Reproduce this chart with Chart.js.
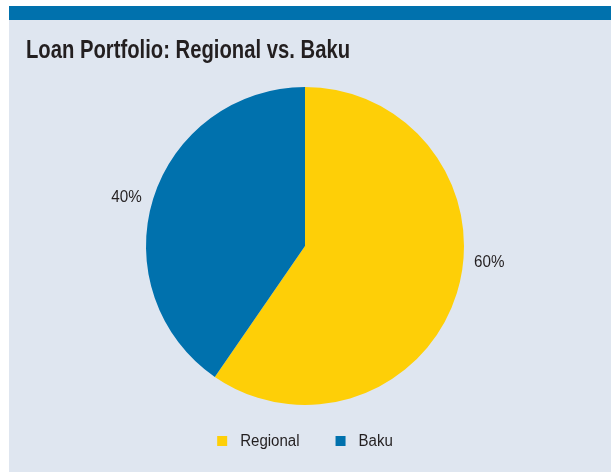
<!DOCTYPE html>
<html>
<head>
<meta charset="utf-8">
<script src="https://cdn.jsdelivr.net/npm/chart.js@4"></script>
<style>
  html, body { margin: 0; padding: 0; background: #ffffff; }
  body { width: 611px; height: 472px; position: relative; overflow: hidden; }
  #topbar { position: absolute; left: 9px; top: 6px; width: 602px; height: 14px; background: #0071ad; }
  #panel { position: absolute; left: 9px; top: 20px; width: 602px; height: 452px; background: #dfe6f0; }
  #panel canvas { display: block; }
</style>
</head>
<body>
<div id="topbar"></div>
<div id="panel"><canvas id="chart" width="602" height="452"></canvas></div>
<script>
// chart data
const categories = ["Regional", "Baku"];
const shares = [59.6, 40.4];
const sliceColors = ["#fecf07", "#0071ad"];
const chartTitle = "Loan Portfolio: Regional vs. Baku";
// small nudge of each outside label along the rim (degrees)
const labelShift = [-12, -2];

const textFont = "'Liberation Sans', Arial, sans-serif";
const inkColor = "#231f20";

// condensed-looking text: squeeze horizontally
function narrowText(ctx, text, x, y, squeeze) {
  ctx.save();
  ctx.translate(x, y);
  ctx.scale(squeeze, 1);
  ctx.fillText(text, 0, 0);
  ctx.restore();
}

// title, drawn narrow like the original condensed face
const narrowTitle = {
  id: "narrowTitle",
  afterDraw(chart) {
    const ctx = chart.ctx;
    ctx.save();
    ctx.font = "bold 25px " + textFont;
    ctx.fillStyle = inkColor;
    ctx.textAlign = "left";
    ctx.textBaseline = "alphabetic";
    narrowText(ctx, chartTitle, 17, 38, 0.81);
    ctx.restore();
  }
};

// percent labels outside the slices
const outsideLabels = {
  id: "outsideLabels",
  afterDatasetsDraw(chart) {
    const ctx = chart.ctx;
    const arcs = chart.getDatasetMeta(0).data;
    const total = shares.reduce((a, b) => a + b, 0);
    ctx.save();
    ctx.font = "16px " + textFont;
    ctx.fillStyle = inkColor;
    ctx.textAlign = "center";
    ctx.textBaseline = "middle";
    arcs.forEach((arc, i) => {
      const mid = (arc.startAngle + arc.endAngle) / 2 + labelShift[i] * Math.PI / 180;
      const r = arc.outerRadius + 26;
      const txt = Math.round(shares[i] / total * 100) + "%";
      narrowText(ctx, txt, arc.x + Math.cos(mid) * r, arc.y + Math.sin(mid) * r, 0.95);
    });
    ctx.restore();
  }
};

// legend drawn under the pie, squares + names
const bottomLegend = {
  id: "bottomLegend",
  afterDraw(chart) {
    const ctx = chart.ctx;
    const box = 10, gap = 13, spacing = 36, squeeze = 0.94;
    ctx.save();
    ctx.font = "16px " + textFont;
    const widths = categories.map(c => ctx.measureText(c).width * squeeze);
    const total = widths.reduce((a, w) => a + box + gap + w, 0) + spacing * (categories.length - 1);
    const cx = (chart.chartArea.left + chart.chartArea.right) / 2;
    let x = cx - total / 2;
    const y = 421;
    ctx.textBaseline = "middle";
    ctx.textAlign = "left";
    categories.forEach((c, i) => {
      ctx.fillStyle = sliceColors[i];
      ctx.fillRect(x, y - box / 2, box, box);
      ctx.fillStyle = inkColor;
      narrowText(ctx, c, x + box + gap, y + 1, squeeze);
      x += box + gap + widths[i] + spacing;
    });
    ctx.restore();
  }
};

new Chart(document.getElementById("chart"), {
  type: "pie",
  data: {
    labels: categories,
    datasets: [{
      data: shares,
      backgroundColor: sliceColors,
      borderWidth: 0
    }]
  },
  options: {
    responsive: false,
    animation: false,
    layout: { padding: { left: 17, right: 27, top: 67, bottom: 67 } },
    plugins: {
      title: { display: false },
      legend: { display: false },
      tooltip: { enabled: false }
    }
  },
  plugins: [narrowTitle, outsideLabels, bottomLegend]
});
</script>
</body>
</html>
